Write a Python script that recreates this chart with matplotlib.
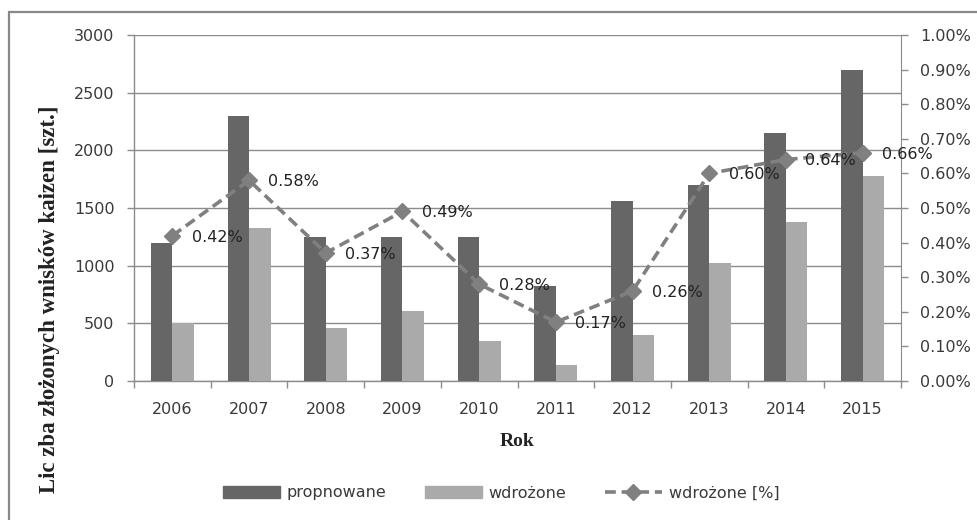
import matplotlib
matplotlib.use("Agg")
import matplotlib.pyplot as plt
from matplotlib.patches import Patch, Rectangle
from matplotlib.lines import Line2D
from matplotlib.ticker import MultipleLocator, FuncFormatter
import numpy as np

years = ["2006", "2007", "2008", "2009", "2010", "2011", "2012", "2013", "2014", "2015"]
proponowane = [1200, 2300, 1250, 1250, 1250, 820, 1560, 1700, 2150, 2700]
wdrozone = [500, 1330, 460, 610, 350, 140, 400, 1020, 1375, 1780]
wdrozone_pct = [0.42, 0.58, 0.37, 0.49, 0.28, 0.17, 0.26, 0.60, 0.64, 0.66]

DARK = "#666666"
LIGHT = "#aaaaaa"
LINE = "#808080"
AXIS = "#8c8c8c"
TEXT = "#3a3a3a"
FS = 11.5

plt.rcParams["font.family"] = ["DejaVu Sans"]

fig = plt.figure(figsize=(9.77, 5.2), dpi=100)
fig.patch.set_facecolor("white")

# outer chart frame
fig.add_artist(Rectangle((9 / 977, -0.05), 1.2, (520 - 12) / 520 + 0.05,
                         transform=fig.transFigure, fill=False,
                         edgecolor="#888888", linewidth=1.6))

ax = fig.add_axes([134 / 977, (520 - 381) / 520, (901 - 134) / 977, 346 / 520])
x = np.arange(len(years))
w = 0.28
ax.bar(x - w / 2, proponowane, width=w, color=DARK, zorder=3)
ax.bar(x + w / 2, wdrozone, width=w, color=LIGHT, zorder=3)

ax.set_xlim(-0.5, len(years) - 0.5)
ax.set_ylim(0, 3000)
ax.yaxis.set_major_locator(MultipleLocator(500))
ax.grid(axis="y", color=AXIS, linewidth=1.0, zorder=0)
ax.set_axisbelow(True)

ax.set_xticks(x)
ax.set_xticklabels(years)
ax.set_xticks(np.arange(-0.5, len(years)), minor=True)
ax.tick_params(axis="x", which="major", length=0, pad=15, labelsize=FS, labelcolor=TEXT)
ax.tick_params(axis="x", which="minor", length=5, color=AXIS, width=1)
ax.tick_params(axis="y", length=5, color=AXIS, width=1, labelsize=FS, labelcolor=TEXT, pad=9)

for s in ["top", "right"]:
    ax.spines[s].set_visible(False)
for s in ["left", "bottom"]:
    ax.spines[s].set_color(AXIS)
    ax.spines[s].set_linewidth(1.0)

ax.set_xlabel("Rok", fontfamily="Liberation Serif", fontweight="bold",
              fontsize=14, color="#222222", labelpad=12)
ax.set_ylabel("Lic zba złożonych wnisków kaizen [szt.]", fontfamily="Liberation Serif",
              fontweight="bold", fontsize=16.5, color="#222222")
ax.yaxis.set_label_coords(-0.097, 0.237)

ax2 = ax.twinx()
ax2.set_ylim(0, 1.0)
ax2.yaxis.set_major_locator(MultipleLocator(0.1))
ax2.yaxis.set_major_formatter(FuncFormatter(lambda v, p: f"{v:.2f}%"))
ax2.tick_params(axis="y", length=5, color=AXIS, width=1, labelsize=FS, labelcolor=TEXT, pad=9)
for s in ["top", "left", "bottom"]:
    ax2.spines[s].set_visible(False)
ax2.spines["right"].set_color(AXIS)

ax2.plot(x, wdrozone_pct, color=LINE, linewidth=2.6, linestyle=(0, (3, 1.6)),
         marker="D", markersize=8, markerfacecolor=LINE, markeredgecolor=LINE, zorder=4)
for xi, v in zip(x, wdrozone_pct):
    ax2.annotate(f"{v:.2f}%", (xi, v), xytext=(14, -1), textcoords="offset points",
                 va="center", ha="left", fontsize=FS, color="#222222", zorder=5)

handles = [Patch(facecolor=DARK, edgecolor=DARK),
           Patch(facecolor=LIGHT, edgecolor=LIGHT),
           Line2D([], [], color=LINE, linewidth=2.6, linestyle=(0, (3, 1.6)),
                  marker="D", markersize=8, markerfacecolor=LINE, markeredgecolor=LINE)]
fig.legend(handles, ["propnowane", "wdrożone", "wdrożone [%]"], ncol=3,
           loc="center", bbox_to_anchor=(501 / 977, 27 / 520), frameon=False,
           fontsize=FS, handlelength=3.6, handleheight=0.8, handletextpad=0.4,
           columnspacing=2.4, labelcolor=TEXT)

fig.savefig("out.png", dpi=100)
